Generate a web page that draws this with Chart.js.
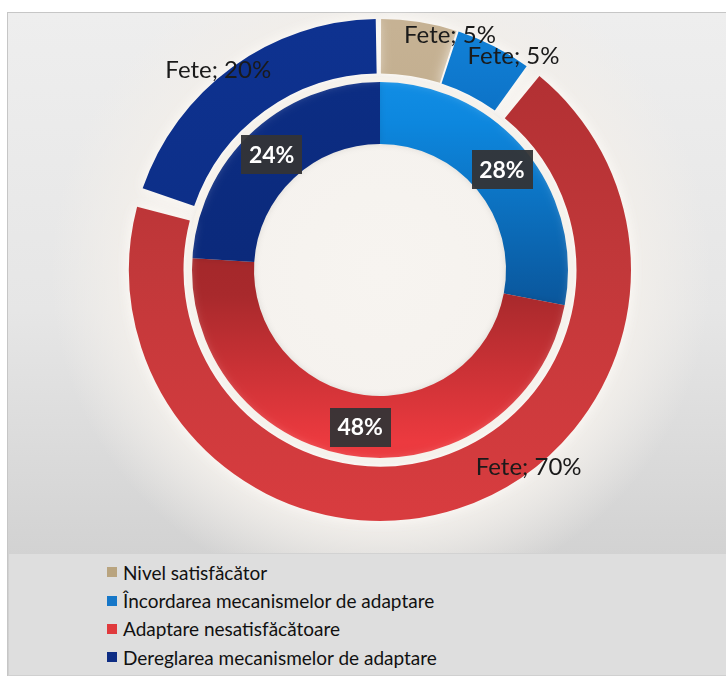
<!DOCTYPE html>
<html>
<head>
<meta charset="utf-8">
<script src="https://cdn.jsdelivr.net/npm/chart.js@4/dist/chart.umd.min.js"></script>
<style>
  html, body { margin: 0; padding: 0; background: #ffffff; }
  body { width: 726px; height: 681px; position: relative; overflow: hidden; font-family: Lato, "Open Sans", sans-serif; }
  #panel {
    position: absolute; left: 7px; top: 12px; width: 719px; height: 664px;
    border-left: 1px solid #c6c6c6; border-top: 1px solid #c6c6c6; box-sizing: border-box;
    background:
      radial-gradient(circle at 373px 258px, rgba(247,244,240,1) 0px, rgba(244,241,237,1) 230px, rgba(241,238,234,0.9) 262px, rgba(236,236,236,0) 330px),
      linear-gradient(to bottom, #eeeeee 0%, #e6e6e6 45%, #d2d2d2 82%, #d0d0d0 100%);
  }
  #chartBox { position: absolute; left: 7px; top: 12px; width: 719px; height: 540px; }
  #legend {
    position: absolute; left: 9px; top: 553px; width: 717px; height: 122px;
    background: #dedede; border-top: 1px solid #d2d2d2; box-sizing: border-box;
  }
  #legend ul { list-style: none; margin: 0; padding: 0; position: absolute; left: 98px; top: 4px; }
  #legend li { height: 28.4px; display: flex; align-items: center; font-size: 19px; color: #111111; white-space: nowrap; }
  #legend .sw { width: 10px; height: 10px; margin-right: 6px; flex: none; }
</style>
</head>
<body>
<div id="panel"></div>
<div id="chartBox"><canvas id="c"></canvas></div>
<div id="legend"></div>
<script>
// ---- data ----
const categories = [
  'Nivel satisfăcător',
  'Încordarea mecanismelor de adaptare',
  'Adaptare nesatisfăcătoare',
  'Dereglarea mecanismelor de adaptare'
];
const outerSeriesName = 'Fete';
const outerValues = [5, 5, 70, 20];
const innerValues = [0, 28, 48, 24];

// ---- style ----
const legendColors = ['#b9a47f', '#1677c8', '#e03a3d', '#0e2d84'];
const outerStops = [
  [[0, '#c6b294'], [1, '#b29d78']],
  [[0, '#1282d8'], [0.25, '#0a6cc0'], [1, '#0a58a0']],
  [[0, '#ae2e31'], [0.5, '#c2383a'], [1, '#d83c3f']],
  [[0, '#0e3290'], [1, '#0b2a7c']]
];
const innerStops = [
  [[0, '#c6b294'], [1, '#b29d78']],
  [[0, '#1696ee'], [0.2, '#0d87de'], [0.58, '#0a559a'], [1, '#083f78']],
  [[0, '#8e2022'], [0.55, '#a8292c'], [0.85, '#ec3a3f'], [1, '#e2383c']],
  [[0, '#0c2e86'], [1, '#0a2570']]
];
const outerLabelNudge = [ {da: 7.6, dr: 0}, {da: 5, dr: 7}, {da: -19, dr: 2}, {da: -3, dr: 12} ];

function vgrad(stopsList) {
  return (c) => {
    const stops = stopsList[c.dataIndex] || stopsList[0];
    const chart = c.chart;
    const a = chart.chartArea;
    if (!a) return stops[stops.length - 1][1];
    const cy = (a.top + a.bottom) / 2;
    const g = chart.ctx.createLinearGradient(0, cy - 245, 0, cy + 245);
    stops.forEach(s => g.addColorStop(s[0], s[1]));
    return g;
  };
}

const glowPlugin = {
  id: 'glow',
  beforeDatasetDraw(chart, args) {
    const ctx = chart.ctx;
    ctx.save();
    if (args.index === 0) {
      ctx.shadowColor = 'rgba(255,252,248,0.95)';
      ctx.shadowBlur = 14;
    } else {
      ctx.shadowColor = 'rgba(0,0,0,0.10)';
      ctx.shadowBlur = 6;
    }
  },
  afterDatasetDraw(chart) { chart.ctx.restore(); }
};

const labelPlugin = {
  id: 'ringLabels',
  afterDatasetsDraw(chart) {
    const ctx = chart.ctx;
    const m0 = chart.getDatasetMeta(0);
    const m1 = chart.getDatasetMeta(1);
    const cx = m0.data[0].x, cy = m0.data[0].y;
    // separator between rings
    ctx.save();
    ctx.beginPath();
    ctx.arc(cx, cy, m0.controller.innerRadius, 0, Math.PI * 2);
    ctx.strokeStyle = '#f6f2ec';
    ctx.lineWidth = 5;
    ctx.stroke();
    ctx.restore();

    // inner labels (boxed)
    ctx.save();
    ctx.font = 'bold 23px Lato, "Open Sans", sans-serif';
    ctx.textAlign = 'center';
    ctx.textBaseline = 'middle';
    m1.data.forEach((arc, i) => {
      const v = chart.data.datasets[1].data[i];
      if (!v) return;
      const p = arc.getCenterPoint();
      const t = v + '%';
      const w = ctx.measureText(t).width + 15;
      const h = 39;
      ctx.fillStyle = 'rgba(52,52,54,0.95)';
      ctx.fillRect(Math.round(p.x - w / 2), Math.round(p.y - h / 2), Math.round(w), h);
      ctx.fillStyle = '#ffffff';
      ctx.fillText(t, p.x, p.y + 1);
    });
    ctx.restore();

    // outer labels
    ctx.save();
    ctx.font = '24px Lato, "Open Sans", sans-serif';
    ctx.textAlign = 'center';
    ctx.textBaseline = 'middle';
    ctx.fillStyle = '#1a1a1a';
    m0.data.forEach((arc, i) => {
      const v = chart.data.datasets[0].data[i];
      if (!v) return;
      const mid = (arc.startAngle + arc.endAngle) / 2 + outerLabelNudge[i].da * Math.PI / 180;
      const r = arc.outerRadius + outerLabelNudge[i].dr;
      const x = cx + r * Math.cos(mid), y = cy + r * Math.sin(mid);
      ctx.fillText(chart.data.datasets[0].label + '; ' + v + '%', x, y);
    });
    ctx.restore();
  }
};

const htmlLegend = {
  id: 'htmlLegend',
  afterUpdate(chart) {
    const box = document.getElementById('legend');
    box.innerHTML = '';
    const ul = document.createElement('ul');
    chart.data.labels.forEach((lab, i) => {
      const li = document.createElement('li');
      const sw = document.createElement('span');
      sw.className = 'sw';
      sw.style.background = legendColors[i];
      const tx = document.createElement('span');
      tx.textContent = lab;
      li.appendChild(sw); li.appendChild(tx);
      ul.appendChild(li);
    });
    box.appendChild(ul);
  }
};

new Chart(document.getElementById('c'), {
  type: 'doughnut',
  data: {
    labels: categories,
    datasets: [
      {
        label: outerSeriesName,
        data: outerValues,
        backgroundColor: vgrad(outerStops),
        borderWidth: 0,
        spacing: 12,
        hoverOffset: 0,
        weight: 54.5
      },
      {
        label: '',
        data: innerValues,
        backgroundColor: vgrad(innerStops),
        borderWidth: 0,
        spacing: 0,
        hoverOffset: 0,
        weight: 64.5
      }
    ]
  },
  options: {
    responsive: true,
    maintainAspectRatio: false,
    animation: false,
    radius: 245,
    cutout: '51.43%',
    layout: { padding: { left: 27, right: 0, top: 0, bottom: 24 } },
    plugins: {
      legend: { display: false },
      tooltip: { enabled: false }
    }
  },
  plugins: [glowPlugin, labelPlugin, htmlLegend]
});
</script>
</body>
</html>
